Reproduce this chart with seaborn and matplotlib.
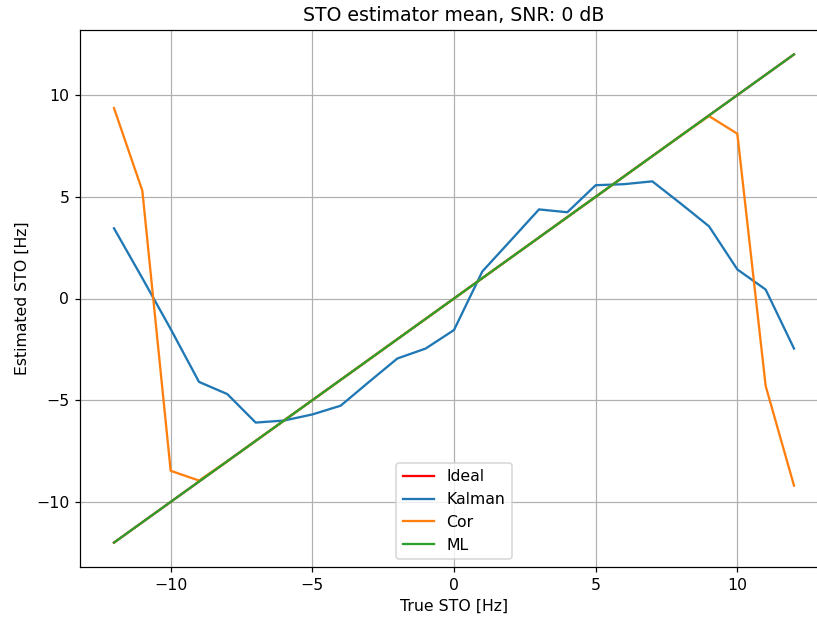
import numpy as np
import pandas as pd
import matplotlib
matplotlib.use("Agg")
import matplotlib.pyplot as plt
import seaborn as sns

true_sto = list(range(-12, 13))
ideal = list(range(-12, 13))
kalman = [3.45, 1.0, -1.5, -4.1, -4.7, -6.1, -6.0, -5.7, -5.27, -4.1, -2.95, -2.46, -1.55,
          1.33, 2.85, 4.38, 4.24, 5.57, 5.62, 5.76, 4.67, 3.55, 1.43, 0.44, -2.46]
cor = [9.36, 5.3, -8.47, -8.95, -8, -7, -6, -5, -4, -3, -2, -1, 0,
       1, 2, 3, 4, 5, 6, 7, 8, 8.97, 8.1, -4.3, -9.2]
ml = list(range(-12, 13))

series_names = ["Ideal", "Kalman", "Cor", "ML"]
series_colors = ["red", "#1f77b4", "#ff7f0e", "#2ca02c"]

plt.rcParams['font.family'] = ['DejaVu Sans']
plt.rcParams['font.size'] = 10.3

DPI = 110
fig = plt.figure(figsize=(817 / DPI, 620 / DPI), dpi=DPI)
ax = fig.add_axes([80/817, 53/620, 748/817, 537/620])

for name, vals, col in zip(series_names, [ideal, kalman, cor, ml], series_colors):
    df = pd.DataFrame({"x": true_sto, "y": vals})
    sns.lineplot(data=df, x="x", y="y", ax=ax, color=col, label=name, linewidth=1.5)

ax.grid(True, color="#b0b0b0", linewidth=0.8)
ax.set_xticks([-10, -5, 0, 5, 10])
ax.set_yticks([-10, -5, 0, 5, 10])
ax.set_xlim(-13.2, 13.2)
ax.set_ylim(-13.2, 13.2)
ax.set_xlabel("True STO [Hz]")
ax.set_ylabel("Estimated STO [Hz]")
ax.set_title("STO estimator mean, SNR: 0 dB")
ax.legend(loc="lower center")

fig.savefig("out.png", dpi=DPI)
